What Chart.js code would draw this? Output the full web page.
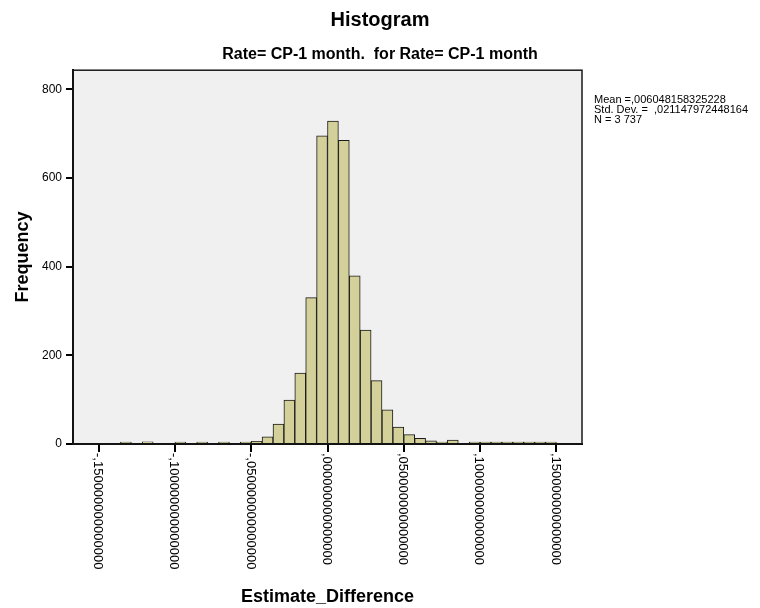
<!DOCTYPE html>
<html>
<head>
<meta charset="utf-8">
<script src="https://cdn.jsdelivr.net/npm/chart.js@4"></script>
<style>
  html, body { margin: 0; padding: 0; background: #fff; }
  #wrap { width: 760px; height: 608px; }
</style>
</head>
<body>
<div id="wrap"><canvas id="histo" width="760" height="608"></canvas></div>
<script>
// bin centres of Estimate_Difference (bin width about 0.05/7)
const binCenters = [
  -0.132143, -0.125, -0.117857, -0.110714, -0.103571, -0.096429, -0.089286, -0.082143,
  -0.075, -0.067857, -0.060714, -0.053571, -0.046429, -0.039286, -0.032143, -0.025,
  -0.017857, -0.010714, -0.003571, 0.003571, 0.010714, 0.017857, 0.025, 0.032143,
  0.039286, 0.046429, 0.053571, 0.060714, 0.067857, 0.075, 0.082143, 0.089286,
  0.096429, 0.103571, 0.110714, 0.117857, 0.125, 0.132143, 0.139286, 0.146429
];
const frequencies = [
  1, 0, 5, 0, 0, 1, 0, 1,
  0, 1, 0, 1, 6, 16, 45, 99,
  160, 330, 695, 728, 685, 379, 257, 143,
  77, 38, 21, 13, 7, 2, 9, 0,
  2, 1, 2, 2, 4, 2, 2, 1
];
const xTickValues = [-0.15, -0.10, -0.05, 0, 0.05, 0.10, 0.15];
const xTickLabels = [
  '-,150000000000000', '-,100000000000000', '-,050000000000000', ',000000000000000',
  ',050000000000000', ',100000000000000', ',150000000000000'
];
const yTickValues = [0, 200, 400, 600, 800];
const statsLines = ['Mean =,006048158325228', 'Std. Dev. =  ,021147972448164', 'N = 3 737'];

const FONT = '"Liberation Sans", Arial, sans-serif';

const plotFrame = {
  id: 'plotFrame',
  beforeDraw(chart) {
    const a = chart.chartArea, ctx = chart.ctx;
    ctx.save();
    ctx.fillStyle = '#f0f0f0';
    ctx.fillRect(a.left, a.top, a.right - a.left, a.bottom - a.top);
    ctx.restore();
  },
  afterDatasetsDraw(chart) {
    const a = chart.chartArea, ctx = chart.ctx;
    ctx.save();
    ctx.strokeStyle = '#1a1a1a';
    ctx.lineWidth = 1.5;
    ctx.strokeRect(a.left, a.top, a.right - a.left, a.bottom - a.top);
    ctx.restore();
  },
  afterDraw(chart) {
    const ctx = chart.ctx, xs = chart.scales.x, a = chart.chartArea;
    ctx.save();
    ctx.fillStyle = '#000';
    ctx.font = '13px ' + FONT;
    ctx.textAlign = 'left';
    ctx.textBaseline = 'middle';
    xTickValues.forEach((v, i) => {
      const px = xs.getPixelForValue(v);
      ctx.save();
      ctx.translate(px - 1, a.bottom + 9);
      ctx.rotate(Math.PI / 2);
      ctx.fillText(xTickLabels[i], 0, 0);
      ctx.restore();
    });
    // stats box on the right
    ctx.font = '11px ' + FONT;
    ctx.textBaseline = 'middle';
    statsLines.forEach((t, i) => ctx.fillText(t, 594, 100 + i * 10));
    ctx.restore();
  }
};

new Chart(document.getElementById('histo'), {
  type: 'bar',
  data: {
    datasets: [{
      label: 'Frequency',
      data: binCenters.map((c, i) => ({ x: c, y: frequencies[i] === 0 ? null : frequencies[i] })),
      backgroundColor: '#d4d09a',
      borderColor: '#1a1a1a',
      borderWidth: 1,
      minBarLength: 2,
      barPercentage: 1,
      categoryPercentage: 1
    }]
  },
  options: {
    responsive: false,
    animation: false,
    layout: { padding: 0 },
    plugins: {
      legend: { display: false },
      tooltip: { enabled: false },
      title: {
        display: true,
        text: 'Histogram',
        color: '#000',
        font: { family: FONT, size: 20, weight: 'bold' },
        padding: { top: 8, bottom: 0 }
      },
      subtitle: {
        display: true,
        text: 'Rate= CP-1 month.  for Rate= CP-1 month',
        color: '#000',
        font: { family: FONT, size: 16, weight: 'bold' },
        padding: { top: 13, bottom: 6 }
      }
    },
    scales: {
      x: {
        type: 'linear',
        min: -0.1668,
        max: 0.1668,
        offset: false,
        grid: { display: true, offset: false, drawOnChartArea: false, drawTicks: true, tickLength: 8, color: '#000', lineWidth: 2 },
        border: { display: true, color: '#000', width: 2 },
        ticks: { display: false },
        afterBuildTicks(s) { s.ticks = xTickValues.map(v => ({ value: v })); },
        afterFit(s) { s.height = 164; },
        title: {
          display: true,
          text: 'Estimate_Difference',
          color: '#000',
          font: { family: FONT, size: 18, weight: 'bold' },
          padding: { top: 0, bottom: 0 }
        }
      },
      y: {
        min: 0,
        max: 843,
        grid: { display: true, drawOnChartArea: false, drawTicks: true, tickLength: 7, color: '#000', lineWidth: 2 },
        border: { display: true, color: '#000', width: 2 },
        ticks: { color: '#000', font: { family: FONT, size: 12 }, padding: 4 },
        afterBuildTicks(s) { s.ticks = yTickValues.map(v => ({ value: v })); },
        afterFit(s) { s.width = 73; },
        title: {
          display: true,
          text: 'Frequency',
          color: '#000',
          font: { family: FONT, size: 18, weight: 'bold' },
          padding: { top: 12, bottom: 0 }
        }
      },
      yRight: {
        type: 'linear',
        position: 'right',
        display: true,
        grid: { display: false, drawTicks: false },
        border: { display: false },
        ticks: { display: false },
        afterFit(s) { s.width = 178; }
      }
    }
  },
  plugins: [plotFrame]
});
</script>
</body>
</html>
